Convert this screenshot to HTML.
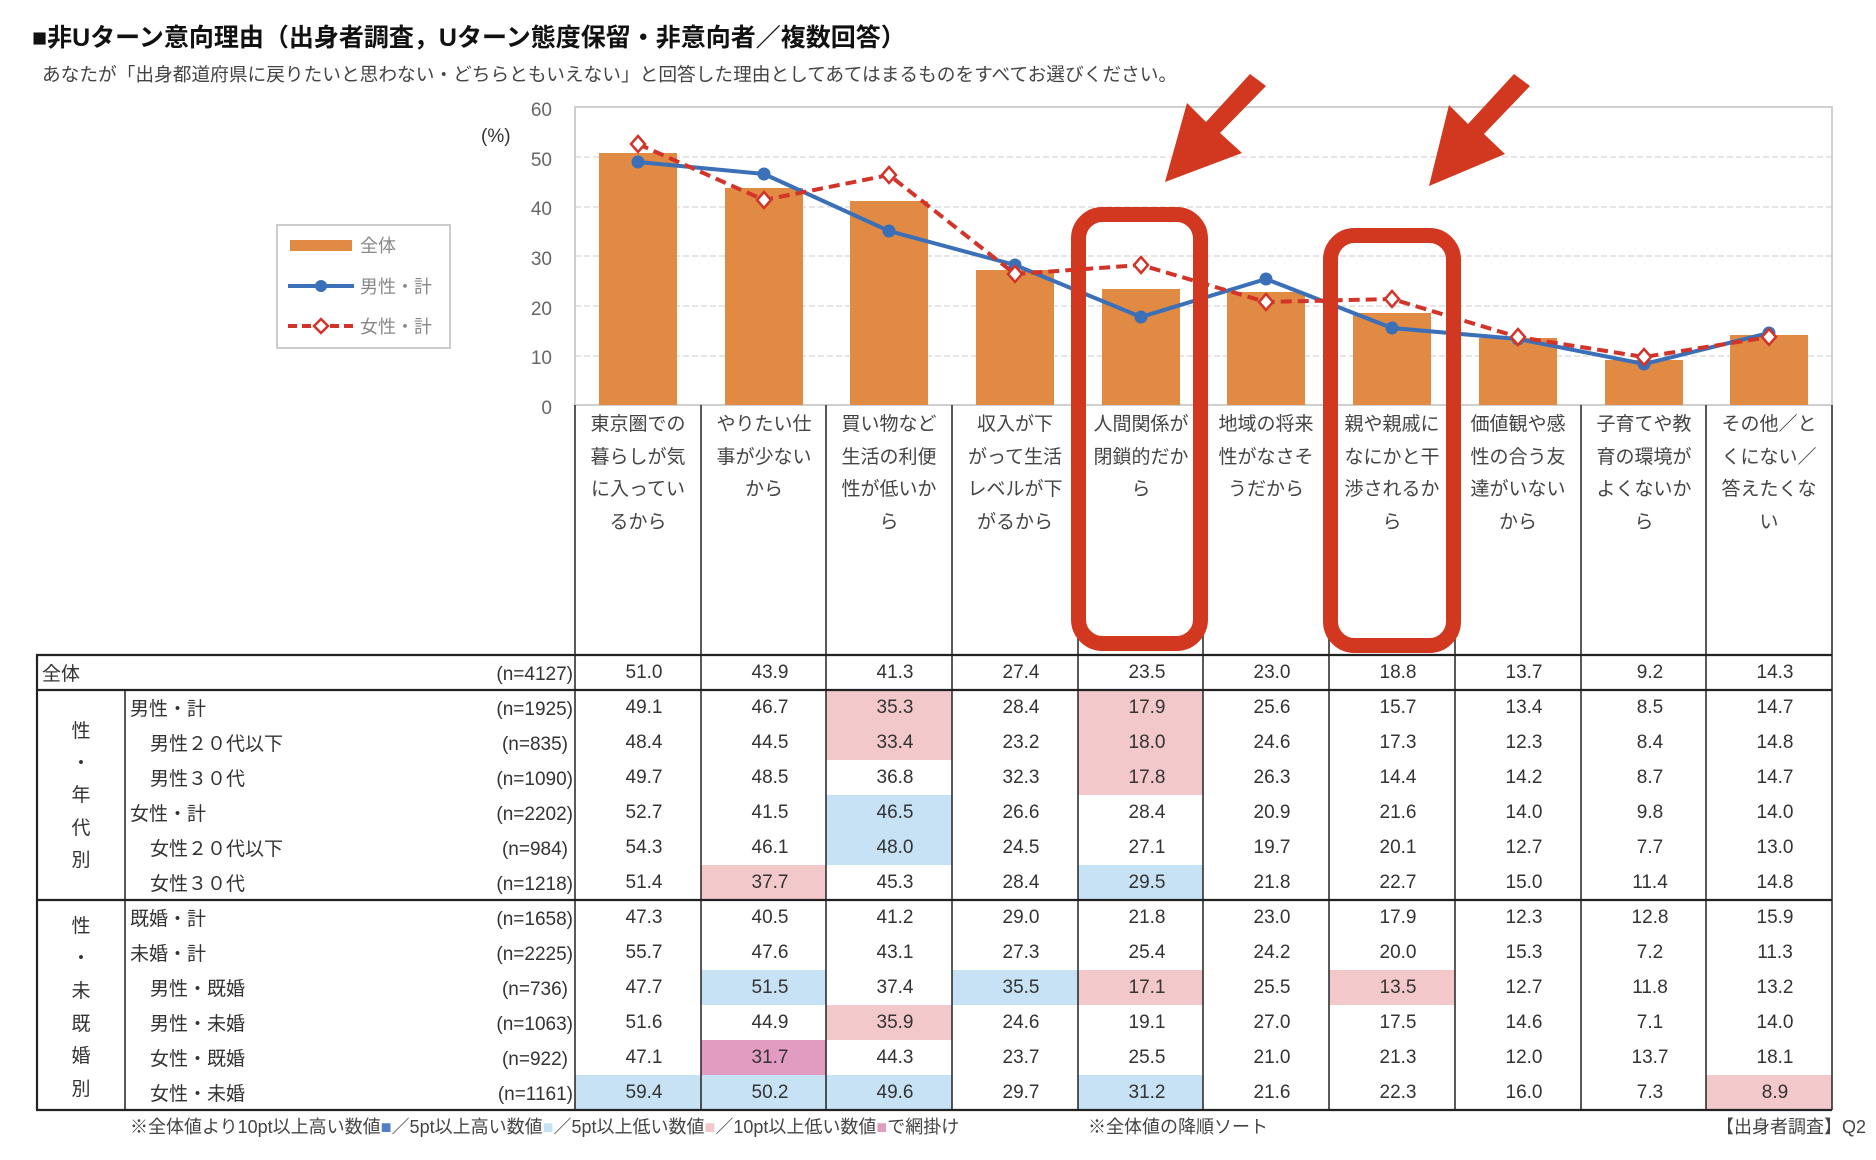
<!DOCTYPE html>
<html><head><meta charset="utf-8"><style>
html,body{margin:0;padding:0;background:#fff;}
svg{display:block;font-family:"Liberation Sans","Noto Sans CJK JP",sans-serif;}
</style></head><body>
<svg width="1876" height="1160" viewBox="0 0 1876 1160" xmlns="http://www.w3.org/2000/svg">
<text x="32" y="46" font-size="25" font-weight="bold" fill="#111">■非Uターン意向理由（出身者調査，Uターン態度保留・非意向者／複数回答）</text>
<text x="42" y="81" font-size="18.7" fill="#444">あなたが「出身都道府県に戻りたいと思わない・どちらともいえない」と回答した理由としてあてはまるものをすべてお選びください。</text>

<g stroke="#ddd" stroke-width="1.5" stroke-dasharray="6,3">
<line x1="575" y1="157" x2="1832" y2="157"/>
<line x1="575" y1="207" x2="1832" y2="207"/>
<line x1="575" y1="256" x2="1832" y2="256"/>
<line x1="575" y1="306" x2="1832" y2="306"/>
<line x1="575" y1="356" x2="1832" y2="356"/>
</g>
<rect x="575" y="107" width="1257" height="298" fill="none" stroke="#cfcfcf" stroke-width="2"/>
<g font-size="19" fill="#666" text-anchor="end">
<text x="552" y="116">60</text><text x="552" y="166">50</text><text x="552" y="215">40</text>
<text x="552" y="265">30</text><text x="552" y="315">20</text><text x="552" y="364">10</text>
<text x="552" y="414">0</text>
</g>
<text x="481" y="142" font-size="19" fill="#333">(%)</text>

<g fill="#e08a43">
<rect x="599" y="153" width="78" height="252"/>
<rect x="725" y="188" width="78" height="217"/>
<rect x="850" y="201" width="78" height="204"/>
<rect x="976" y="270" width="78" height="135"/>
<rect x="1102" y="289" width="78" height="116"/>
<rect x="1227" y="292" width="78" height="113"/>
<rect x="1353" y="313" width="78" height="92"/>
<rect x="1479" y="338" width="78" height="67"/>
<rect x="1605" y="360" width="78" height="45"/>
<rect x="1730" y="335" width="78" height="70"/>
</g>
<polyline fill="none" stroke="#3b70b8" stroke-width="4" points="638,162 764,174 889,231 1015,265 1141,317 1266,279 1392,328 1518,339 1644,364 1769,333"/>
<g fill="#3b70b8">
<circle cx="638" cy="162" r="6.5"/><circle cx="764" cy="174" r="6.5"/><circle cx="889" cy="231" r="6.5"/><circle cx="1015" cy="265" r="6.5"/><circle cx="1141" cy="317" r="6.5"/><circle cx="1266" cy="279" r="6.5"/><circle cx="1392" cy="328" r="6.5"/><circle cx="1518" cy="339" r="6.5"/><circle cx="1644" cy="364" r="6.5"/><circle cx="1769" cy="333" r="6.5"/>
</g>
<polyline fill="none" stroke="#d2342a" stroke-width="4" stroke-dasharray="11,6" points="638,144 764,200 889,175 1015,274 1141,265 1266,302 1392,299 1518,337 1644,357 1769,337"/>
<g fill="#fff" stroke="#d2342a" stroke-width="2.5">
<path d="M638,136 l7,8 l-7,8 l-7,-8z"/><path d="M764,192 l7,8 l-7,8 l-7,-8z"/><path d="M889,167 l7,8 l-7,8 l-7,-8z"/><path d="M1015,266 l7,8 l-7,8 l-7,-8z"/><path d="M1141,257 l7,8 l-7,8 l-7,-8z"/><path d="M1266,294 l7,8 l-7,8 l-7,-8z"/><path d="M1392,291 l7,8 l-7,8 l-7,-8z"/><path d="M1518,329 l7,8 l-7,8 l-7,-8z"/><path d="M1644,349 l7,8 l-7,8 l-7,-8z"/><path d="M1769,329 l7,8 l-7,8 l-7,-8z"/>
</g>

<rect x="277" y="225" width="173" height="123" fill="#fff" stroke="#ccc" stroke-width="2"/>
<rect x="290" y="240" width="62" height="11" fill="#e08a43"/>
<text x="360" y="252" font-size="18" fill="#888">全体</text>
<line x1="288" y1="286" x2="354" y2="286" stroke="#3b70b8" stroke-width="4"/>
<circle cx="321" cy="286" r="6" fill="#3b70b8"/>
<text x="360" y="293" font-size="18" fill="#888">男性・計</text>
<line x1="288" y1="326" x2="354" y2="326" stroke="#d2342a" stroke-width="4" stroke-dasharray="9,5"/>
<path d="M321,319 l7,7 l-7,7 l-7,-7z" fill="#fff" stroke="#d2342a" stroke-width="2.5"/>
<text x="360" y="333" font-size="18" fill="#888">女性・計</text>

<g fill="#f2c8cb">
<rect x="826" y="690" width="126" height="70"/>
<rect x="1078" y="690" width="125" height="105"/>
<rect x="701" y="865" width="125" height="35"/>
<rect x="1078" y="970" width="125" height="35"/>
<rect x="1329" y="970" width="126" height="35"/>
<rect x="826" y="1005" width="126" height="35"/>
<rect x="1706" y="1075" width="126" height="35"/>
</g>
<g fill="#c6e2f4">
<rect x="826" y="795" width="126" height="70"/>
<rect x="1078" y="865" width="125" height="35"/>
<rect x="701" y="970" width="125" height="35"/>
<rect x="952" y="970" width="126" height="35"/>
<rect x="575" y="1075" width="126" height="35"/>
<rect x="701" y="1075" width="125" height="35"/>
<rect x="826" y="1075" width="126" height="35"/>
<rect x="1078" y="1075" width="125" height="35"/>
</g>
<rect x="701" y="1040" width="125" height="35" fill="#e39cc1"/>

<g font-size="19" fill="#444" text-anchor="middle">
<text x="638" y="430">東京圏での</text><text x="638" y="463">暮らしが気</text><text x="638" y="495">に入ってい</text><text x="638" y="528">るから</text>
<text x="764" y="430">やりたい仕</text><text x="764" y="463">事が少ない</text><text x="764" y="495">から</text>
<text x="889" y="430">買い物など</text><text x="889" y="463">生活の利便</text><text x="889" y="495">性が低いか</text><text x="889" y="528">ら</text>
<text x="1015" y="430">収入が下</text><text x="1015" y="463">がって生活</text><text x="1015" y="495">レベルが下</text><text x="1015" y="528">がるから</text>
<text x="1141" y="430">人間関係が</text><text x="1141" y="463">閉鎖的だか</text><text x="1141" y="495">ら</text>
<text x="1266" y="430">地域の将来</text><text x="1266" y="463">性がなさそ</text><text x="1266" y="495">うだから</text>
<text x="1392" y="430">親や親戚に</text><text x="1392" y="463">なにかと干</text><text x="1392" y="495">渉されるか</text><text x="1392" y="528">ら</text>
<text x="1518" y="430">価値観や感</text><text x="1518" y="463">性の合う友</text><text x="1518" y="495">達がいない</text><text x="1518" y="528">から</text>
<text x="1644" y="430">子育てや教</text><text x="1644" y="463">育の環境が</text><text x="1644" y="495">よくないか</text><text x="1644" y="528">ら</text>
<text x="1769" y="430">その他／と</text><text x="1769" y="463">くにない／</text><text x="1769" y="495">答えたくな</text><text x="1769" y="528">い</text>
</g>

<g stroke="#222" stroke-width="1.5">
<line x1="575" y1="405" x2="575" y2="1110"/>
<line x1="701" y1="405" x2="701" y2="1110"/>
<line x1="826" y1="405" x2="826" y2="1110"/>
<line x1="952" y1="405" x2="952" y2="1110"/>
<line x1="1078" y1="405" x2="1078" y2="1110"/>
<line x1="1203" y1="405" x2="1203" y2="1110"/>
<line x1="1329" y1="405" x2="1329" y2="1110"/>
<line x1="1455" y1="405" x2="1455" y2="1110"/>
<line x1="1581" y1="405" x2="1581" y2="1110"/>
<line x1="1706" y1="405" x2="1706" y2="1110"/>
<line x1="1832" y1="405" x2="1832" y2="1110"/>
<line x1="125" y1="690" x2="125" y2="1110"/>
</g>
<g stroke="#222" stroke-width="2.2">
<line x1="36" y1="655" x2="1832" y2="655"/>
<line x1="36" y1="690" x2="1832" y2="690"/>
<line x1="36" y1="900" x2="1832" y2="900"/>
<line x1="36" y1="1110" x2="1832" y2="1110"/>
<line x1="37" y1="655" x2="37" y2="1110"/>
</g>

<g font-size="19" fill="#333">
<text x="42" y="680">全体</text>
<text x="130" y="715">男性・計</text>
<text x="150" y="750">男性２０代以下</text>
<text x="150" y="785">男性３０代</text>
<text x="130" y="820">女性・計</text>
<text x="150" y="855">女性２０代以下</text>
<text x="150" y="890">女性３０代</text>
<text x="130" y="925">既婚・計</text>
<text x="130" y="960">未婚・計</text>
<text x="150" y="995">男性・既婚</text>
<text x="150" y="1030">男性・未婚</text>
<text x="150" y="1065">女性・既婚</text>
<text x="150" y="1100">女性・未婚</text>
</g>
<g font-size="19" fill="#333" text-anchor="middle">
<text x="81" y="737">性</text><text x="81" y="769">・</text><text x="81" y="801">年</text><text x="81" y="834">代</text><text x="81" y="866">別</text>
<text x="81" y="932">性</text><text x="81" y="964">・</text><text x="81" y="997">未</text><text x="81" y="1030">既</text><text x="81" y="1062">婚</text><text x="81" y="1095">別</text>
</g>
<g font-size="19" fill="#333" text-anchor="end">
<text x="573" y="680">(n=4127)</text>
<text x="573" y="715">(n=1925)</text><text x="568" y="750">(n=835)</text><text x="573" y="785">(n=1090)</text>
<text x="573" y="820">(n=2202)</text><text x="568" y="855">(n=984)</text><text x="573" y="890">(n=1218)</text>
<text x="573" y="925">(n=1658)</text><text x="573" y="960">(n=2225)</text><text x="568" y="995">(n=736)</text>
<text x="573" y="1030">(n=1063)</text><text x="568" y="1065">(n=922)</text><text x="573" y="1100">(n=1161)</text>
</g>

<g font-size="19" fill="#333" text-anchor="middle">
<g transform="translate(0,678)"><text x="644">51.0</text><text x="770">43.9</text><text x="895">41.3</text><text x="1021">27.4</text><text x="1147">23.5</text><text x="1272">23.0</text><text x="1398">18.8</text><text x="1524">13.7</text><text x="1650">9.2</text><text x="1775">14.3</text></g>
<g transform="translate(0,713)"><text x="644">49.1</text><text x="770">46.7</text><text x="895">35.3</text><text x="1021">28.4</text><text x="1147">17.9</text><text x="1272">25.6</text><text x="1398">15.7</text><text x="1524">13.4</text><text x="1650">8.5</text><text x="1775">14.7</text></g>
<g transform="translate(0,748)"><text x="644">48.4</text><text x="770">44.5</text><text x="895">33.4</text><text x="1021">23.2</text><text x="1147">18.0</text><text x="1272">24.6</text><text x="1398">17.3</text><text x="1524">12.3</text><text x="1650">8.4</text><text x="1775">14.8</text></g>
<g transform="translate(0,783)"><text x="644">49.7</text><text x="770">48.5</text><text x="895">36.8</text><text x="1021">32.3</text><text x="1147">17.8</text><text x="1272">26.3</text><text x="1398">14.4</text><text x="1524">14.2</text><text x="1650">8.7</text><text x="1775">14.7</text></g>
<g transform="translate(0,818)"><text x="644">52.7</text><text x="770">41.5</text><text x="895">46.5</text><text x="1021">26.6</text><text x="1147">28.4</text><text x="1272">20.9</text><text x="1398">21.6</text><text x="1524">14.0</text><text x="1650">9.8</text><text x="1775">14.0</text></g>
<g transform="translate(0,853)"><text x="644">54.3</text><text x="770">46.1</text><text x="895">48.0</text><text x="1021">24.5</text><text x="1147">27.1</text><text x="1272">19.7</text><text x="1398">20.1</text><text x="1524">12.7</text><text x="1650">7.7</text><text x="1775">13.0</text></g>
<g transform="translate(0,888)"><text x="644">51.4</text><text x="770">37.7</text><text x="895">45.3</text><text x="1021">28.4</text><text x="1147">29.5</text><text x="1272">21.8</text><text x="1398">22.7</text><text x="1524">15.0</text><text x="1650">11.4</text><text x="1775">14.8</text></g>
<g transform="translate(0,923)"><text x="644">47.3</text><text x="770">40.5</text><text x="895">41.2</text><text x="1021">29.0</text><text x="1147">21.8</text><text x="1272">23.0</text><text x="1398">17.9</text><text x="1524">12.3</text><text x="1650">12.8</text><text x="1775">15.9</text></g>
<g transform="translate(0,958)"><text x="644">55.7</text><text x="770">47.6</text><text x="895">43.1</text><text x="1021">27.3</text><text x="1147">25.4</text><text x="1272">24.2</text><text x="1398">20.0</text><text x="1524">15.3</text><text x="1650">7.2</text><text x="1775">11.3</text></g>
<g transform="translate(0,993)"><text x="644">47.7</text><text x="770">51.5</text><text x="895">37.4</text><text x="1021">35.5</text><text x="1147">17.1</text><text x="1272">25.5</text><text x="1398">13.5</text><text x="1524">12.7</text><text x="1650">11.8</text><text x="1775">13.2</text></g>
<g transform="translate(0,1028)"><text x="644">51.6</text><text x="770">44.9</text><text x="895">35.9</text><text x="1021">24.6</text><text x="1147">19.1</text><text x="1272">27.0</text><text x="1398">17.5</text><text x="1524">14.6</text><text x="1650">7.1</text><text x="1775">14.0</text></g>
<g transform="translate(0,1063)"><text x="644">47.1</text><text x="770">31.7</text><text x="895">44.3</text><text x="1021">23.7</text><text x="1147">25.5</text><text x="1272">21.0</text><text x="1398">21.3</text><text x="1524">12.0</text><text x="1650">13.7</text><text x="1775">18.1</text></g>
<g transform="translate(0,1098)"><text x="644">59.4</text><text x="770">50.2</text><text x="895">49.6</text><text x="1021">29.7</text><text x="1147">31.2</text><text x="1272">21.6</text><text x="1398">22.3</text><text x="1524">16.0</text><text x="1650">7.3</text><text x="1775">8.9</text></g>
</g>

<text x="130" y="1133" font-size="18" fill="#444">※全体値より10pt以上高い数値<tspan fill="#4f7fc4">■</tspan>／5pt以上高い数値<tspan fill="#c6e2f4">■</tspan>／5pt以上低い数値<tspan fill="#f2c8cb">■</tspan>／10pt以上低い数値<tspan fill="#e39cc1">■</tspan>で網掛け</text>
<text x="1088" y="1133" font-size="18" fill="#444">※全体値の降順ソート</text>
<text x="1866" y="1133" font-size="18" fill="#444" text-anchor="end">【出身者調査】Q2</text>

<g fill="none" stroke="#d2371f" stroke-width="15">
<rect x="1078.5" y="214.5" width="122" height="429" rx="24"/>
<rect x="1330.5" y="235.5" width="123" height="410" rx="24"/>
</g>
<g fill="#d2371f">
<polygon points="1250,74 1266,86 1220,133 1242,153 1165,182 1187,103 1206,122"/>
<polygon points="1514,74 1530,86 1484,134 1505,154 1429,186 1449,105 1468,124"/>
</g>
</svg>
</body></html>
